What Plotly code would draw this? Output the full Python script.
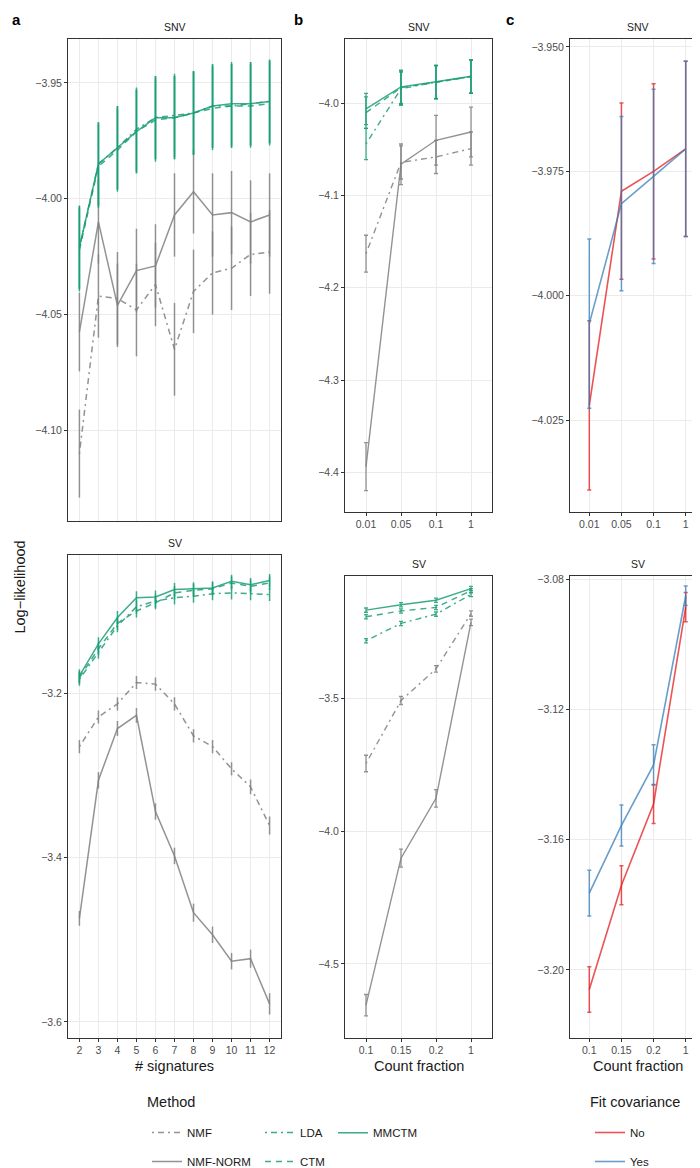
import plotly.graph_objects as go

W, H = 700, 1168


def fx(x):
    return x / W


def fy(y):
    return 1 - y / H


# ---------------- data ----------------
sig_x = [2, 3, 4, 5, 6, 7, 8, 9, 10, 11, 12]
snv_frac = ["0.01", "0.05", "0.1", "1"]
sv_frac = ["0.1", "0.15", "0.2", "1"]

# panel a, SNV
a_snv_mmctm = [-4.021, -3.985, -3.978, -3.971, -3.965, -3.965, -3.963, -3.960, -3.959, -3.959, -3.958]
a_snv_ctm = [-4.022, -3.986, -3.979, -3.971, -3.966, -3.965, -3.963, -3.961, -3.960, -3.960, -3.959]
a_snv_lda = [-4.021, -3.985, -3.978, -3.970, -3.965, -3.964, -3.963, -3.960, -3.960, -3.959, -3.958]
a_snv_green_err = [0.018, 0.018, 0.018, 0.018, 0.018, 0.018, 0.018, 0.018, 0.018, 0.018, 0.018]
a_snv_nmfnorm = [-4.0575, -4.010, -4.046, -4.031, -4.029, -4.007, -3.997, -4.007, -4.006, -4.010, -4.007]
a_snv_nmfnorm_err = [0.017, 0.018, 0.018, 0.018, 0.018, 0.018, 0.018, 0.018, 0.018, 0.018, 0.018]
a_snv_nmf = [-4.110, -4.042, -4.043, -4.048, -4.037, -4.065, -4.040, -4.032, -4.030, -4.024, -4.023]
a_snv_nmf_err = [0.019, 0.018, 0.020, 0.020, 0.018, 0.020, 0.018, 0.018, 0.018, 0.018, 0.018]

# panel a, SV
a_sv_mmctm = [-3.179, -3.140, -3.108, -3.084, -3.083, -3.074, -3.073, -3.072, -3.064, -3.068, -3.063]
a_sv_ctm = [-3.181, -3.146, -3.115, -3.100, -3.090, -3.078, -3.075, -3.073, -3.066, -3.070, -3.066]
a_sv_lda = [-3.183, -3.150, -3.118, -3.095, -3.088, -3.084, -3.082, -3.079, -3.078, -3.079, -3.080]
a_sv_green_err = [0.008, 0.008, 0.008, 0.008, 0.008, 0.008, 0.008, 0.008, 0.008, 0.008, 0.008]
a_sv_nmfnorm = [-3.474, -3.306, -3.243, -3.227, -3.344, -3.398, -3.467, -3.494, -3.526, -3.523, -3.578]
a_sv_nmfnorm_err = [0.009, 0.010, 0.009, 0.009, 0.010, 0.010, 0.011, 0.010, 0.010, 0.011, 0.013]
a_sv_nmf = [-3.265, -3.229, -3.213, -3.187, -3.189, -3.213, -3.252, -3.265, -3.292, -3.314, -3.361]
a_sv_nmf_err = [0.008, 0.008, 0.008, 0.008, 0.008, 0.008, 0.008, 0.008, 0.008, 0.009, 0.011]

# panel b, SNV
b_snv_mmctm = [-4.006, -3.982, -3.9765, -3.9705]
b_snv_ctm = [-4.010, -3.983, -3.977, -3.971]
b_snv_lda = [-4.044, -3.984, -3.977, -3.971]
b_snv_green_err = [0.017, 0.018, 0.018, 0.018]
b_snv_nmfnorm = [-4.394, -4.066, -4.040, -4.031]
b_snv_nmfnorm_err = [0.026, 0.022, 0.027, 0.027]
b_snv_nmf = [-4.163, -4.064, -4.058, -4.049]
b_snv_nmf_err = [0.020, 0.018, 0.018, 0.018]

# panel b, SV
b_sv_mmctm = [-3.169, -3.149, -3.132, -3.088]
b_sv_ctm = [-3.194, -3.172, -3.159, -3.096]
b_sv_lda = [-3.284, -3.219, -3.184, -3.110]
b_sv_green_err = [0.008, 0.008, 0.008, 0.008]
b_sv_nmfnorm = [-4.655, -4.102, -3.877, -3.215]
b_sv_nmfnorm_err = [0.040, 0.034, 0.033, 0.012]
b_sv_nmf = [-3.746, -3.509, -3.390, -3.182]
b_sv_nmf_err = [0.031, 0.015, 0.012, 0.010]

# panel c
c_snv_no = [-4.022, -3.979, -3.975, -3.9705]
c_snv_no_err = [0.017, 0.0177, 0.0176, 0.0176]
c_snv_yes = [-4.0056, -3.9815, -3.976, -3.9705]
c_snv_yes_err = [0.017, 0.0175, 0.0175, 0.0176]
c_sv_no = [-3.206, -3.174, -3.149, -3.0885]
c_sv_no_err = [0.007, 0.006, 0.006, 0.0045]
c_sv_yes = [-3.1764, -3.1556, -3.137, -3.085]
c_sv_yes_err = [0.007, 0.0063, 0.0062, 0.003]

# ---------------- style ----------------
GREEN = "rgba(27,158,119,0.85)"
GRAY = "rgba(128,128,128,0.85)"
RED = "rgba(228,26,28,0.75)"
BLUE = "rgba(55,126,184,0.75)"
FONT = "Liberation Sans, Arial, sans-serif"
DOTDASH = "2px,4px,6px,4px"
DASHED = "6px,5px"

styles = {
    "NMF": (GRAY, DOTDASH, "legend", 1),
    "NMF-NORM": (GRAY, "solid", "legend", 2),
    "LDA": (GREEN, DOTDASH, "legend2", 3),
    "CTM": (GREEN, DASHED, "legend2", 4),
    "MMCTM": (GREEN, "solid", "legend3", 5),
}

fig = go.Figure()
shown = set()


def add(name, x, y, err, xa, ya, cap, lw, ethick):
    col, dash, leg, rank = styles[name]
    show = name not in shown
    shown.add(name)
    fig.add_trace(go.Scatter(
        x=x, y=y, mode="lines", name=name, legendgroup=name, showlegend=show,
        legend=leg, legendrank=rank,
        line=dict(color=col, dash=dash, width=lw),
        error_y=dict(type="data", array=err, visible=True, color=col,
                     thickness=ethick, width=cap),
        xaxis=xa, yaxis=ya, hoverinfo="x+y+name",
    ))


panels = [
    ("x", "y", sig_x, [a_snv_nmf, a_snv_nmfnorm, a_snv_lda, a_snv_ctm, a_snv_mmctm],
     [a_snv_nmf_err, a_snv_nmfnorm_err, a_snv_green_err, a_snv_green_err, a_snv_green_err], 0, 1.5, 1.5),
    ("x2", "y2", sig_x, [a_sv_nmf, a_sv_nmfnorm, a_sv_lda, a_sv_ctm, a_sv_mmctm],
     [a_sv_nmf_err, a_sv_nmfnorm_err, a_sv_green_err, a_sv_green_err, a_sv_green_err], 0, 1.5, 1.5),
    ("x3", "y3", snv_frac, [b_snv_nmf, b_snv_nmfnorm, b_snv_lda, b_snv_ctm, b_snv_mmctm],
     [b_snv_nmf_err, b_snv_nmfnorm_err, b_snv_green_err, b_snv_green_err, b_snv_green_err], 2, 1.4, 1.3),
    ("x4", "y4", sv_frac, [b_sv_nmf, b_sv_nmfnorm, b_sv_lda, b_sv_ctm, b_sv_mmctm],
     [b_sv_nmf_err, b_sv_nmfnorm_err, b_sv_green_err, b_sv_green_err, b_sv_green_err], 2, 1.4, 1.3),
]
names = ["NMF", "NMF-NORM", "LDA", "CTM", "MMCTM"]
for xa, ya, xs, ys, es, cap, lw, et in panels:
    for nm, yv, ev in zip(names, ys, es):
        add(nm, xs, yv, ev, xa, ya, cap, lw, et)

cov = [("No", RED, 1), ("Yes", BLUE, 2)]
for xa, ya, xs, series in [("x5", "y5", snv_frac, [(c_snv_no, c_snv_no_err), (c_snv_yes, c_snv_yes_err)]),
                           ("x6", "y6", sv_frac, [(c_sv_no, c_sv_no_err), (c_sv_yes, c_sv_yes_err)])]:
    for (nm, col, rk), (yv, ev) in zip(cov, series):
        fig.add_trace(go.Scatter(
            x=xs, y=yv, mode="lines", name=nm, legendgroup=nm, showlegend=(xa == "x5"),
            legend="legend4", legendrank=rk,
            line=dict(color=col, width=1.6),
            error_y=dict(type="data", array=ev, visible=True, color=col, thickness=1.5, width=2),
            xaxis=xa, yaxis=ya,
        ))

# ---------------- axes ----------------
ax_common = dict(showline=True, mirror=True, linecolor="#333333", linewidth=1,
                 showgrid=True, gridcolor="#EBEBEB", gridwidth=1, zeroline=False,
                 ticks="outside", ticklen=3, tickcolor="#333333", tickwidth=0.8,
                 tickfont=dict(family=FONT, size=10.5, color="#4D4D4D"))

col_a = [fx(60), fx(273)]
col_b = [fx(337), fx(484)]
col_c = [fx(562), fx(697)]
row_a_top = [fy(513), fy(29)]
row_a_bot = [fy(1032), fy(547)]
row_bc_top = [fy(504), fy(29)]
row_bc_bot = [fy(1032), fy(568)]

layout = dict(
    xaxis=dict(ax_common, domain=col_a, anchor="y", range=[1.4, 12.6], dtick=1,
               showticklabels=False, ticks=""),
    yaxis=dict(ax_common, domain=row_a_top, anchor="x", range=[-4.139, -3.931],
               tickvals=[-3.95, -4.00, -4.05, -4.10], tickformat=".2f"),
    xaxis2=dict(ax_common, domain=col_a, anchor="y2", range=[1.4, 12.6],
                tickvals=sig_x),
    yaxis2=dict(ax_common, domain=row_a_bot, anchor="x2", range=[-3.619, -3.0315],
                tickvals=[-3.2, -3.4, -3.6], tickformat=".1f"),
    xaxis3=dict(ax_common, domain=col_b, anchor="y3", type="category",
                categoryorder="array", categoryarray=snv_frac, range=[-0.6, 3.6]),
    yaxis3=dict(ax_common, domain=row_bc_top, anchor="x3", range=[-4.443, -3.930],
                tickvals=[-4.0, -4.1, -4.2, -4.3, -4.4], tickformat=".1f"),
    xaxis4=dict(ax_common, domain=col_b, anchor="y4", type="category",
                categoryorder="array", categoryarray=sv_frac, range=[-0.6, 3.6]),
    yaxis4=dict(ax_common, domain=row_bc_bot, anchor="x4", range=[-4.777, -3.039],
                tickvals=[-3.5, -4.0, -4.5], tickformat=".1f"),
    xaxis5=dict(ax_common, domain=col_c, anchor="y5", type="category",
                categoryorder="array", categoryarray=snv_frac, range=[-0.6, 3.6]),
    yaxis5=dict(ax_common, domain=row_bc_top, anchor="x5", range=[-4.0434, -3.9484],
                tickvals=[-3.950, -3.975, -4.000, -4.025], tickformat=".3f"),
    xaxis6=dict(ax_common, domain=col_c, anchor="y6", type="category",
                categoryorder="array", categoryarray=sv_frac, range=[-0.6, 3.6]),
    yaxis6=dict(ax_common, domain=row_bc_bot, anchor="x6", range=[-3.2208, -3.0788],
                tickvals=[-3.08, -3.12, -3.16, -3.20], tickformat=".2f"),
)

leg_common = dict(orientation="v", xanchor="left", yanchor="top", y=fy(1113),
                  bgcolor="rgba(0,0,0,0)", font=dict(family=FONT, size=11.5, color="#1A1A1A"),
                  tracegroupgap=10, itemwidth=30, traceorder="grouped")
layout.update(
    legend=dict(leg_common, x=fx(139)),
    legend2=dict(leg_common, x=fx(252)),
    legend3=dict(leg_common, x=fx(325)),
    legend4=dict(leg_common, x=fx(582)),
)

ann = []


def text(x, y, s, size=10, color="#1A1A1A", xanchor="center", bold=False, angle=0):
    ann.append(dict(x=fx(x), y=fy(y), xref="paper", yref="paper", text=("<b>%s</b>" % s) if bold else s,
                    showarrow=False, xanchor=xanchor, yanchor="middle", textangle=angle,
                    font=dict(family=FONT, size=size, color=color)))


text(8, 10, "a", size=15, color="#000000", xanchor="center", bold=True)
text(290, 10, "b", size=15, color="#000000", xanchor="center", bold=True)
text(502, 10, "c", size=15, color="#000000", xanchor="center", bold=True)
text((60 + 273) / 2, 17, "SNV", size=10.5)
text((60 + 273) / 2, 535, "SV", size=10.5)
text((337 + 484) / 2, 17, "SNV", size=10.5)
text((337 + 484) / 2, 556, "SV", size=10.5)
text((562 + 697) / 2, 17, "SNV", size=10.5)
text((562 + 697) / 2, 556, "SV", size=10.5)
text(12, 580, "Log\u2212likelihood", size=14.5, angle=-90)
text((60 + 273) / 2, 1061, "# signatures", size=14.5)
text((337 + 484) / 2, 1061, "Count fraction", size=14.5)
text((562 + 697) / 2, 1061, "Count fraction", size=14.5)
text(137, 1097, "Method", size=14.5, xanchor="left")
text(580, 1097, "Fit covariance", size=14.5, xanchor="left")

fig.update_layout(**layout)
fig.update_layout(
    width=W, height=H, margin=dict(l=0, r=0, t=0, b=0),
    paper_bgcolor="white", plot_bgcolor="white",
    font=dict(family=FONT, size=10, color="#1A1A1A"),
    annotations=ann, showlegend=True,
)

fig.write_html("out.html")
